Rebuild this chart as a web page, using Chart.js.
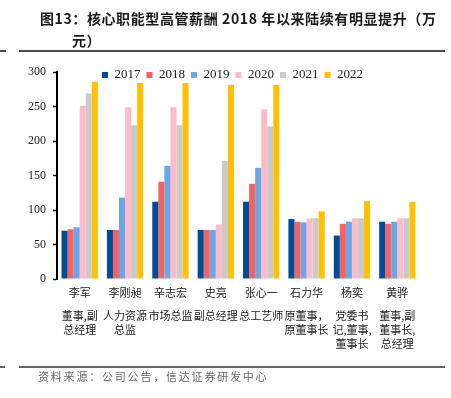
<!DOCTYPE html>
<html>
<head>
<meta charset="utf-8">
<script src="https://cdn.jsdelivr.net/npm/chart.js@4"></script>
<style>
    html, body { margin: 0; padding: 0; background: #fff; }
    body { width: 451px; height: 398px; position: relative; overflow: hidden; }
    #wrap { position: absolute; left: 0; top: 0; width: 451px; height: 398px; }
    #title {
        position: absolute; left: 40px; top: 7px; width: 410px;
        font: bold 14px "Noto Sans CJK SC", sans-serif; letter-spacing: 0.6px;
        line-height: 22px; color: #1a1a1a; white-space: nowrap;
    }
    #title .second { padding-left: 32px; }
    .rule { position: absolute; height: 2px; background: #4a4a4a; }
    #source {
        position: absolute; left: 38px; top: 368px;
        font: 11px "Noto Sans CJK SC", sans-serif; letter-spacing: 1.8px;
        line-height: 16px; color: #666;
    }
</style>
</head>
<body>
<div id="wrap"><canvas id="payChart" width="451" height="398"></canvas></div>
<div id="title">图13：核心职能型高管薪酬 2018 年以来陆续有明显提升（万<br><span class="second">元）</span></div>
<div class="rule" style="left:0;top:50px;width:6px"></div>
<div class="rule" style="left:19px;top:50px;width:426px"></div>
<div class="rule" style="left:0;top:366px;width:5px;background:#666"></div>
<div class="rule" style="left:19px;top:366px;width:426px;background:#666"></div>
<div id="source">资料来源：公司公告，信达证券研发中心</div>

<script>
// executives and their roles (x axis)
const names = ['李军', '李刚昶', '辛志宏', '史亮', '张心一', '石力华', '杨奕', '黄骅'];
const roles = [
    ['董事,副', '总经理'],
    ['人力资源', '总监'],
    ['市场总监'],
    ['副总经理'],
    ['总工艺师'],
    ['原董事，', '原董事长'],
    ['党委书', '记,董事,', '董事长'],
    ['董事,副', '董事长,', '总经理'],
];

const years = ['2017', '2018', '2019', '2020', '2021', '2022'];

// pay, 10k yuan
const pay2017 = [70, 71, 112, 71, 112, 87, 63, 83];
const pay2018 = [72, 71, 141, 71, 138, 83, 80, 80];
const pay2019 = [75, 118, 164, 71, 161, 82, 83, 83];
const pay2020 = [251, 249, 249, 79, 246, 88, 88, 88];
const pay2021 = [269, 223, 223, 171, 221, 88, 88, 88];
const pay2022 = [286, 284, 284, 281, 281, 98, 113, 112];

const yTicks = [0, 50, 100, 150, 200, 250, 300];

const colors = ['#004C97', '#F06464', '#6CA6E6', '#FFBCC8', '#CACACA', '#FFC000'];
const series = [pay2017, pay2018, pay2019, pay2020, pay2021, pay2022];

const LEGEND_PAD = 6;

// legend sits inside the plot, just under the 300 tick
const placeLegend = {
    id: 'placeLegend',
    afterLayout(chart) {
        const lg = chart.legend;
        if (!lg) return;
        const h = lg.bottom - lg.top;
        const w = lg.right - lg.left;
        lg.top = chart.chartArea.top + 3 - LEGEND_PAD - 6.5;
        lg.bottom = lg.top + h;
        lg.left = 102 - LEGEND_PAD;
        lg.right = lg.left + w;
    }
};

const serif = 'Liberation Serif, "Times New Roman", serif';
const cjk = '"Noto Sans CJK SC", sans-serif';

new Chart(document.getElementById('payChart').getContext('2d'), {
    type: 'bar',
    data: {
        labels: names,
        datasets: years.map((y, i) => ({
            label: y,
            data: series[i],
            backgroundColor: colors[i],
            borderWidth: 0,
            categoryPercentage: 0.8,
            barPercentage: 1.0,
        }))
    },
    options: {
        responsive: false,
        animation: false,
        layout: { padding: { left: 0, right: 31, top: 43, bottom: 38 } },
        plugins: {
            tooltip: { enabled: false },
            legend: {
                position: 'top',
                align: 'start',
                labels: {
                    boxWidth: 6,
                    boxHeight: 6,
                    padding: LEGEND_PAD,
                    color: '#222',
                    font: { family: serif, size: 13 },
                }
            }
        },
        scales: {
            x: {
                grid: { display: false, drawTicks: false },
                border: { display: false },
                ticks: {
                    color: '#222',
                    padding: 7,
                    autoSkip: false,
                    maxRotation: 0,
                    font: { family: cjk, size: 11 },
                },
                afterFit: s => { s.height = 28; },
            },
            x2: {
                type: 'category',
                position: 'bottom',
                labels: roles,
                offset: true,
                grid: { display: false, drawTicks: false },
                border: { display: false },
                ticks: {
                    color: '#222',
                    padding: 2,
                    autoSkip: false,
                    maxRotation: 0,
                    font: { family: cjk, size: 11, lineHeight: '14px' },
                },
                afterFit: s => { s.height = 53; },
            },
            y: {
                min: 0,
                max: 300,
                afterBuildTicks: s => { s.ticks = yTicks.map(v => ({ value: v })); },
                grid: { display: true, drawOnChartArea: false, tickLength: 4, tickColor: '#000', tickWidth: 1.5 },
                border: { display: true, color: '#000', width: 2 },
                ticks: {
                    color: '#222',
                    padding: 7,
                    font: { family: serif, size: 12 },
                },
                afterFit: s => { s.width = 57; },
            }
        }
    },
    plugins: [placeLegend]
});
</script>
</body>
</html>
